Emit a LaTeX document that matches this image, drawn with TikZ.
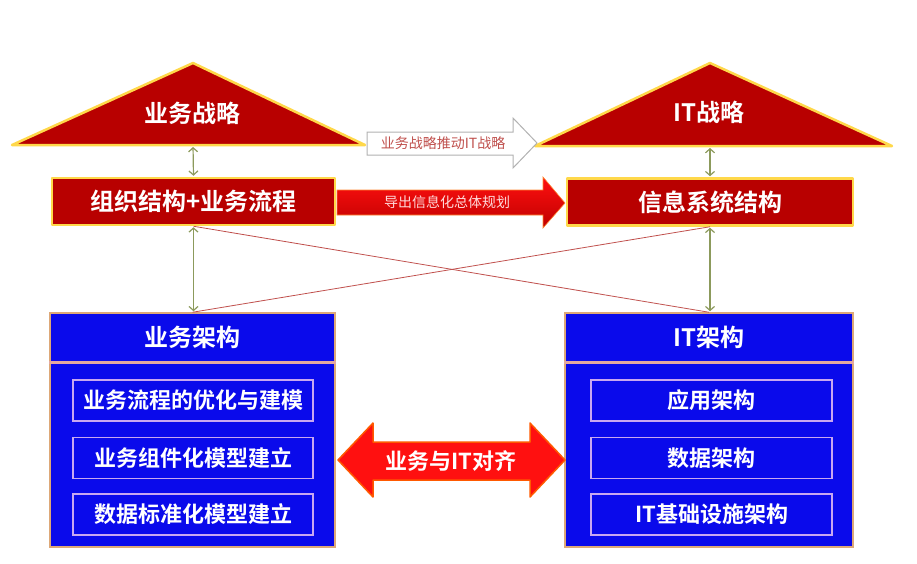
\documentclass[tikz,border=0pt]{standalone}
\usepackage{fontspec}
\newfontfamily\cjk{Noto Sans CJK SC}[BoldFont={Noto Sans CJK SC Bold}]
\usetikzlibrary{arrows.meta,positioning}
\definecolor{stratRed}{HTML}{B80000}
\definecolor{stratEdge}{HTML}{FFD84A}
\definecolor{archBlue}{HTML}{0A0AEB}
\definecolor{archEdge}{HTML}{DDA878}
\definecolor{headEdge}{HTML}{E4A8A0}
\definecolor{itemEdge}{HTML}{C8A8F0}
\definecolor{linkGreen}{HTML}{8C9A5C}
\definecolor{crossRed}{HTML}{C0504D}
\definecolor{flowRed}{HTML}{FF1010}

\begin{document}
\begin{tikzpicture}[x=1pt,y=-1pt,
  strat/.style={fill=stratRed,draw=stratEdge,line width=2.5pt,line join=round},
  stratbox/.style={strat,minimum height=47pt,inner sep=0pt,text=white,font=\cjk\bfseries\fontsize{24}{28}\selectfont},
  archbox/.style={fill=archBlue,draw=archEdge,line width=1.5pt,inner sep=0pt},
  archhead/.style={archbox,minimum height=49pt,text=white,font=\cjk\bfseries\fontsize{24}{28}\selectfont},
  item/.style={fill=archBlue,draw=itemEdge,line width=1.5pt,minimum height=41pt,inner sep=0pt,text=white,font=\cjk\bfseries\fontsize{22}{26}\selectfont},
  link/.style={draw=linkGreen,line width=1.2pt,{Straight Barb[length=4pt,width=9pt]}-{Straight Barb[length=4pt,width=9pt]}},
  cross/.style={draw=crossRed,line width=0.8pt}]
\useasboundingbox (0,0) rectangle (917,563);
\draw[strat] (12,145) -- (193,63) -- (365,145) -- cycle; \node[text=white,font=\cjk\bfseries\fontsize{24}{28}\selectfont] (bizstrat) at (192,113) {业务战略};
\draw[strat] (535,146) -- (710,63) -- (892,146) -- cycle; \node[text=white,font=\cjk\bfseries\fontsize{24}{28}\selectfont] (itstrat) at (709,112) {IT战略};
\coordinate (bizbase) at (193,145);
\coordinate (itbase) at (710,146);
\draw[fill=white,draw=gray!60,line width=1pt] (367,132) -- (513,132) -- (513,118) -- (537,143) -- (513,168) -- (513,155) -- (367,155) -- cycle;
\node[text=crossRed,font=\cjk\fontsize{14}{16}\selectfont] (drive) at (443,143) {业务战略推动IT战略};
\node[stratbox,minimum width=283pt] (bizrect) at (193.5,201.5) {组织结构+业务流程};
\node[stratbox,minimum width=286pt] (itrect) at (710,202) {信息系统结构};
\draw[top color=flowRed,bottom color=stratRed!90!red,draw=stratEdge!60!flowRed,line width=0.6pt] (337,190) -- (543,190) -- (543,177) -- (565,203) -- (543,228) -- (543,215) -- (337,215) -- cycle;
\node[text=red!15!white,font=\cjk\fontsize{14}{16}\selectfont] (derive) at (447,202) {导出信息化总体规划};
\node[archbox,minimum width=285pt,minimum height=234pt] (bizarch) at (192.5,430) {};
\node[archhead,minimum width=285pt,anchor=north] (bizhead) at (bizarch.north) {业务架构};
\draw[headEdge,line width=3pt] (bizhead.south west) -- (bizhead.south east);
\node[archbox,minimum width=288pt,minimum height=234pt] (itarch) at (709,430) {};
\node[archhead,minimum width=288pt,anchor=north] (ithead) at (itarch.north) {IT架构};
\draw[headEdge,line width=3pt] (ithead.south west) -- (ithead.south east);
\node[item,minimum width=240pt] (bizA) at (193,400.5) {业务流程的优化与建模};
\node[item,minimum width=240pt,below=15pt of bizA] (bizB) {业务组件化模型建立};
\node[item,minimum width=240pt,below=14pt of bizB] (bizC) {数据标准化模型建立};
\node[item,minimum width=241pt] (itA) at (711.5,400.5) {应用架构};
\node[item,minimum width=241pt,below=15pt of itA] (itB) {数据架构};
\node[item,minimum width=241pt,below=14pt of itB] (itC) {IT基础设施架构};
\draw[fill=flowRed,draw=orange!70!red,line width=1.5pt,line join=round] (338,460) -- (373,423) -- (373,442) -- (530,442) -- (530,423) -- (565,460) -- (530,497) -- (530,480) -- (373,480) -- (373,497) -- cycle;
\node[text=white,font=\cjk\bfseries\fontsize{22}{26}\selectfont] (align) at (451,461) {业务与IT对齐};
\draw[link,shorten <=2pt,shorten >=1pt] (bizbase) -- (bizrect.north);
\draw[link,shorten <=2pt,shorten >=1pt] (itbase) -- (itrect.north);
\draw[cross] (bizrect.south) -- (itarch.north);
\draw[cross] (itrect.south) -- (bizarch.north);
\draw[link,shorten <=1pt,shorten >=1pt] (bizrect.south) -- (bizrect.south |- bizarch.north);
\draw[link,shorten <=1pt,shorten >=1pt] (itrect.south) -- (itrect.south |- itarch.north);
\end{tikzpicture}
\end{document}
